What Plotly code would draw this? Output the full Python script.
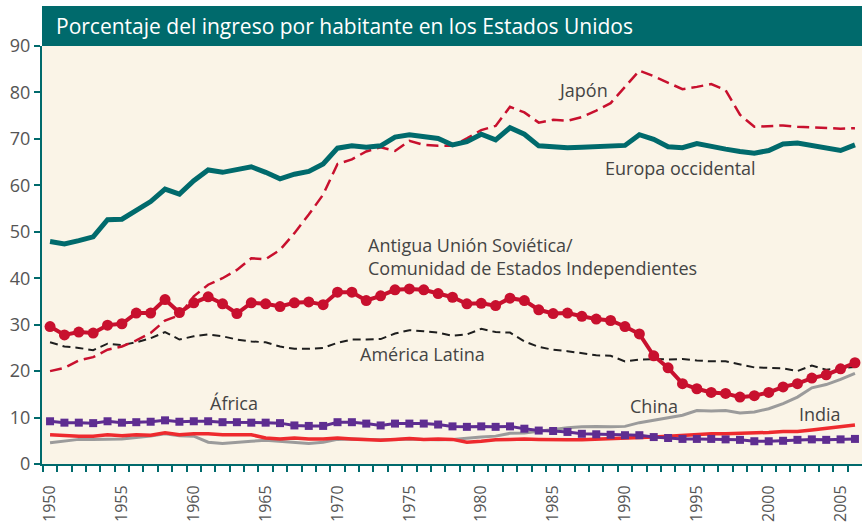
import plotly.graph_objects as go

years = list(range(1950, 2007))

europa = [47.9, 47.4, 48.1, 48.9, 52.6, 52.7, 54.6, 56.5, 59.2, 58.1,
          61.0, 63.3, 62.8, 63.5, 64.0, 62.8, 61.4, 62.4, 63.0, 64.6,
          68.0, 68.5, 68.2, 68.5, 70.4, 70.9, 70.6, 70.1, 68.7, 69.4,
          71.0, 69.8, 72.4, 71.0, 68.5, 68.2, 68.1, 68.2, 68.3, 68.5,
          68.6, 70.9, 69.9, 68.3, 68.1, 69.0, 68.3, 67.8, 67.3, 66.9,
          67.5, 68.9, 69.1, 68.5, 68.0, 67.5, 68.7]

japon = [20.0, 20.7, 22.3, 23.0, 24.6, 25.3, 26.6, 28.2, 30.9, 32.0,
         36.1, 38.6, 40.0, 41.8, 44.3, 44.1, 46.1, 49.7, 53.7, 58.0,
         64.6, 65.6, 67.3, 68.2, 67.4, 69.6, 68.7, 68.5, 68.5, 70.1,
         71.9, 72.8, 76.9, 75.7, 73.5, 74.1, 73.9, 74.7, 76.1, 77.7,
         81.2, 84.7, 83.5, 82.1, 80.7, 81.2, 81.8, 80.5, 75.2, 72.6,
         72.8, 72.9, 72.6, 72.5, 72.4, 72.2, 72.3]

urss = [29.6, 27.8, 28.4, 28.2, 29.9, 30.2, 32.5, 32.5, 35.4, 32.6,
        34.7, 36.0, 34.5, 32.4, 34.7, 34.5, 33.9, 34.7, 34.9, 34.3,
        37.0, 37.0, 35.2, 36.2, 37.5, 37.7, 37.5, 36.7, 35.9, 34.5,
        34.6, 34.1, 35.7, 35.2, 33.2, 32.4, 32.5, 31.8, 31.2, 30.9,
        29.6, 28.0, 23.3, 20.7, 17.3, 16.2, 15.4, 15.2, 14.4, 14.7,
        15.4, 16.6, 17.3, 18.5, 19.2, 20.5, 21.8]

america_latina = [26.2, 25.3, 25.0, 24.5, 25.9, 25.6, 26.2, 27.1, 28.4, 26.8,
                  27.5, 27.9, 27.5, 26.8, 26.4, 26.2, 25.3, 24.8, 24.8, 25.0,
                  26.1, 26.8, 26.8, 26.9, 28.1, 28.8, 28.6, 28.3, 27.6, 27.9,
                  29.1, 28.4, 28.3, 26.4, 25.2, 24.6, 24.3, 23.9, 23.4, 23.3,
                  22.1, 22.5, 22.6, 22.5, 22.6, 22.3, 22.1, 22.1, 21.5, 20.8,
                  20.7, 20.6, 20.0, 21.2, 20.3, 20.6, 20.9]

china = [4.6, 4.9, 5.3, 5.3, 5.4, 5.4, 5.7, 6.0, 6.5, 6.1,
         6.0, 4.7, 4.4, 4.7, 4.9, 5.1, 4.9, 4.7, 4.4, 4.7,
         5.3, 5.4, 5.3, 5.2, 5.3, 5.4, 5.3, 5.2, 5.3, 5.6,
         5.8, 6.0, 6.6, 6.7, 7.1, 7.4, 7.8, 8.0, 8.1, 8.0,
         8.1, 8.9, 9.4, 9.9, 10.5, 11.5, 11.4, 11.5, 11.0, 11.2,
         11.9, 13.0, 14.4, 16.4, 17.1, 18.2, 19.5]

africa = [9.2, 8.9, 8.9, 8.8, 9.2, 8.9, 9.0, 9.1, 9.4, 9.1,
          9.2, 9.2, 9.0, 9.0, 8.9, 8.9, 8.8, 8.3, 8.2, 8.2,
          9.0, 9.0, 8.7, 8.3, 8.7, 8.7, 8.7, 8.5, 8.1, 8.0,
          8.1, 8.0, 8.1, 7.6, 7.2, 7.1, 6.9, 6.5, 6.4, 6.3,
          6.2, 6.2, 5.8, 5.6, 5.4, 5.4, 5.4, 5.3, 5.2, 4.9,
          4.9, 5.0, 5.2, 5.3, 5.2, 5.3, 5.4]

india = [6.3, 6.1, 6.0, 6.0, 6.3, 6.1, 6.3, 6.2, 6.7, 6.3,
         6.5, 6.5, 6.3, 6.3, 6.3, 5.6, 5.4, 5.6, 5.4, 5.4,
         5.6, 5.4, 5.2, 5.1, 5.3, 5.5, 5.3, 5.4, 5.3, 4.7,
         4.9, 5.2, 5.3, 5.4, 5.3, 5.2, 5.2, 5.2, 5.3, 5.5,
         5.6, 5.7, 5.8, 6.0, 6.2, 6.3, 6.5, 6.5, 6.6, 6.6,
         6.8, 7.0, 7.0, 7.3, 7.7, 8.1, 8.4]

x_tick_years = [1950, 1955, 1960, 1965, 1970, 1975, 1980, 1985, 1990, 1995, 2000, 2005]
y_ticks = [0, 10, 20, 30, 40, 50, 60, 70, 80, 90]

title_text = "Porcentaje del ingreso por habitante en los Estados Unidos"

TEAL = "#006A6C"
CRIMSON = "#C8102E"
RED = "#EE2A2E"
PURPLE = "#5E2D91"
GRAY = "#9B9B9B"
TXT = "#444444"
FONT = "Open Sans"

fig = go.Figure()

fig.add_trace(go.Scatter(x=years, y=china, mode="lines",
                         line=dict(color=GRAY, width=3), name="China"))
fig.add_trace(go.Scatter(x=years, y=india, mode="lines",
                         line=dict(color=RED, width=3.5), name="India"))
fig.add_trace(go.Scatter(x=years, y=africa, mode="lines+markers",
                         line=dict(color=PURPLE, width=3),
                         marker=dict(symbol="square", size=8, color=PURPLE),
                         name="África"))
fig.add_trace(go.Scatter(x=years, y=america_latina, mode="lines",
                         line=dict(color="#1E1E1E", width=2, dash="8px,5px"),
                         name="América Latina"))
fig.add_trace(go.Scatter(x=years, y=japon, mode="lines",
                         line=dict(color=CRIMSON, width=2.5, dash="12px,6px"),
                         name="Japón"))
fig.add_trace(go.Scatter(x=years, y=europa, mode="lines",
                         line=dict(color=TEAL, width=5), name="Europa occidental"))
fig.add_trace(go.Scatter(x=years, y=urss, mode="lines+markers",
                         line=dict(color=CRIMSON, width=4),
                         marker=dict(symbol="circle", size=11, color=CRIMSON),
                         name="Antigua Unión Soviética"))

labels = [
    ("Japón", 1985.2, 80.6),
    ("Europa occidental", 1988.5, 63.7),
    ("Antigua Unión Soviética/<br>Comunidad de Estados Independientes", 1972.0, 44.6),
    ("América Latina", 1971.4, 23.7),
    ("África", 1961.0, 13.1),
    ("China", 1990.2, 12.5),
    ("India", 2002.0, 10.8),
]
for txt, lx, ly in labels:
    fig.add_annotation(x=lx, y=ly, xref="x", yref="y", text=txt, showarrow=False,
                       xanchor="left", yanchor="middle", align="left",
                       font=dict(family=FONT, size=18, color=TXT))

# title bar
fig.add_shape(type="rect", xref="paper", yref="paper", x0=0, x1=1,
              y0=1.0, y1=1.0957, fillcolor=TEAL, line=dict(width=0), layer="above")
fig.add_annotation(xref="paper", yref="paper", x=0.015, y=1.047, text=title_text,
                   showarrow=False, xanchor="left", yanchor="middle",
                   font=dict(family=FONT, size=21, color="white"))

fig.update_layout(
    width=862, height=523,
    margin=dict(l=42, r=0, t=46, b=59, autoexpand=False),
    paper_bgcolor="white",
    plot_bgcolor="#FAF4E7",
    showlegend=False,
    font=dict(family=FONT, color=TXT),
)

fig.update_xaxes(
    range=[1949.44, 2006.49], automargin=False,
    tickmode="array", tickvals=x_tick_years, ticktext=[str(v) for v in x_tick_years],
    ticks="", tickangle=-90, ticklabelstandoff=13,
    tickfont=dict(family=FONT, size=16, color="#555555"),
    showgrid=False, zeroline=False,
    showline=True, linecolor=TEAL, linewidth=2,
    minor=dict(tickmode="array", tickvals=[y - 0.5 for y in years + [2007]],
               ticks="outside", ticklen=6, tickcolor=TEAL, tickwidth=1.5, showgrid=False),
)
fig.update_yaxes(
    range=[0, 90], automargin=False,
    tickmode="array", tickvals=y_ticks,
    ticks="outside", ticklen=6, tickcolor=TEAL, tickwidth=1.5,
    tickfont=dict(family=FONT, size=18, color="#555555"),
    showgrid=False, zeroline=False,
    showline=True, linecolor=TEAL, linewidth=2,
)

fig.write_html("out.html", config={"displayModeBar": False},
               post_script="document.body.style.margin='0';document.body.style.overflow='hidden';")
